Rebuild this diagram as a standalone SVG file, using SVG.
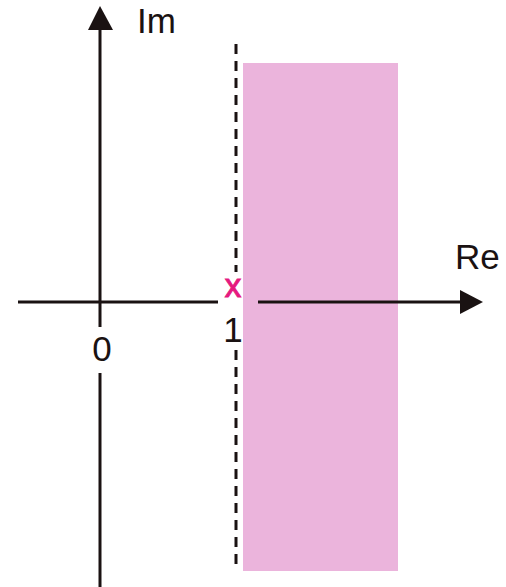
<svg xmlns="http://www.w3.org/2000/svg" width="506" height="587" viewBox="0 0 506 587">
<style>
.ax{stroke:#1a1212;stroke-width:3;fill:none}
.dash{stroke:#1a1212;stroke-width:3;fill:none;stroke-dasharray:10,7}
.lbl{font-family:"Liberation Sans",Arial,sans-serif;font-size:35px;fill:#1a1212}
</style>
<rect width="506" height="587" fill="#ffffff"/>
<g id="region">
<rect x="243" y="63" width="155" height="508" fill="#ebb4dc"/>
</g>
<g id="connectors">
<line class="dash" x1="236" y1="44" x2="236" y2="272"/>
<line class="dash" x1="236" y1="350" x2="236" y2="569"/>
<line class="ax" x1="100" y1="28" x2="100" y2="327"/>
<line class="ax" x1="100" y1="373" x2="100" y2="587"/>
<polygon points="100,6 88,30 113,30" fill="#1a1212"/>
<line class="ax" x1="18" y1="302" x2="218" y2="302"/>
<line class="ax" x1="258" y1="302" x2="463" y2="302"/>
<polygon points="483,302 460,290 460,314" fill="#1a1212"/>
</g>
<g id="labels">
<text class="lbl" x="137" y="33">Im</text>
<text class="lbl" x="455" y="269">Re</text>
<text class="lbl" x="102" y="361" text-anchor="middle">0</text>
<text class="lbl" x="233" y="342" text-anchor="middle">1</text>
<text x="233" y="297" text-anchor="middle" style="font-family:'Liberation Sans',Arial,sans-serif;font-size:33px;fill:#e5197f;stroke:#e5197f;stroke-width:1">x</text>
</g>
</svg>
